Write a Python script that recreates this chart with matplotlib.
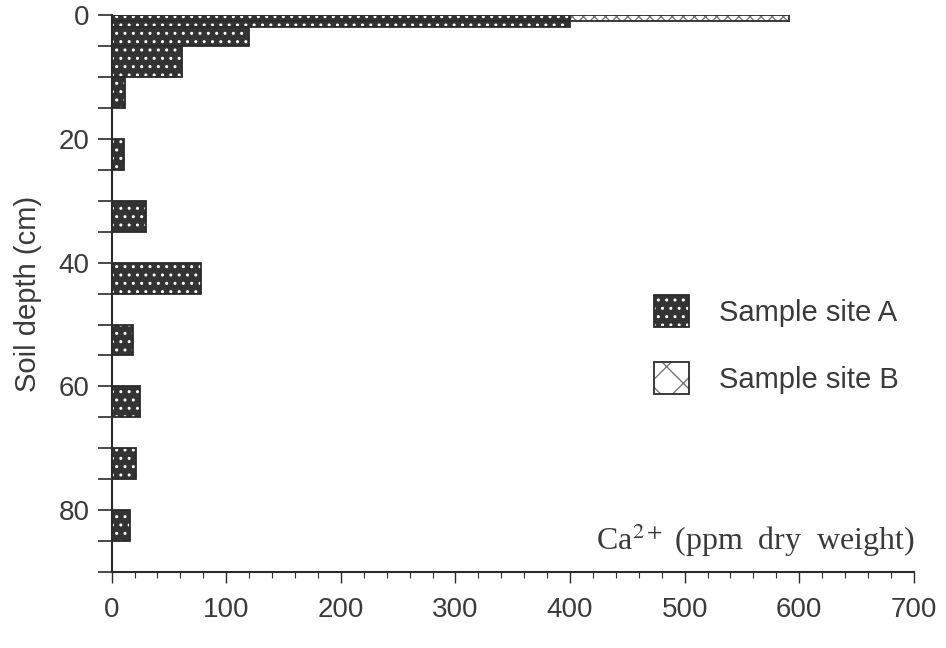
import matplotlib.pyplot as plt
from matplotlib.patches import Patch
from matplotlib.legend_handler import HandlerTuple
from matplotlib.ticker import MultipleLocator

# soil layers (cm) and Ca2+ content (ppm dry weight)
depth_top_a = [0, 2, 5, 10, 20, 30, 40, 50, 60, 70, 80]
depth_bot_a = [2, 5, 10, 15, 25, 35, 45, 55, 65, 75, 85]
ca_site_a = [400, 120, 61, 12, 11, 30, 78, 19, 25, 21, 16]

depth_top_b = [0]
depth_bot_b = [1]
ca_site_b = [591]

x_ticks = [0, 100, 200, 300, 400, 500, 600, 700]
y_ticks = [0, 20, 40, 60, 80]

ink = '#2b2b2b'
dark = '#333333'

fig = plt.figure(figsize=(9.46, 6.48), dpi=100)
ax = fig.add_axes([0.118, 0.117, 0.848, 0.86])


def layers(top, bot, vals, face, hatch, hatch_col):
    h = [b - t for t, b in zip(top, bot)]
    ax.barh(top, vals, height=h, align='edge', color=face, edgecolor=hatch_col,
            hatch=hatch, linewidth=0, zorder=2)
    ax.barh(top, vals, height=h, align='edge', fill=False, edgecolor=ink,
            linewidth=1.3, zorder=3)


plt.rcParams['hatch.linewidth'] = 1.0
layers(depth_top_b, depth_bot_b, ca_site_b, 'white', 'xxx', '#777777')
layers(depth_top_a, depth_bot_a, ca_site_a, dark, '..', 'white')

ax.set_xlim(0, 700)
ax.set_ylim(90, 0)
ax.set_xticks(x_ticks)
ax.set_yticks(y_ticks)
ax.xaxis.set_minor_locator(MultipleLocator(20))
ax.yaxis.set_minor_locator(MultipleLocator(5))

for s in ['top', 'right']:
    ax.spines[s].set_visible(False)
for s in ['left', 'bottom']:
    ax.spines[s].set_linewidth(1.5)
    ax.spines[s].set_color(ink)

ax.tick_params(axis='x', which='major', length=8, width=1.0, color=ink,
               labelsize=20, labelcolor='#3a3a3a', pad=10)
ax.tick_params(axis='x', which='minor', length=4, width=0.8, color=ink)
ax.tick_params(axis='y', which='both', length=10, width=1.2, color=ink,
               labelsize=20, labelcolor='#3a3a3a', pad=6)
for lab in ax.get_xticklabels() + ax.get_yticklabels():
    lab.set_family('Liberation Sans')

ax.set_ylabel('Soil depth (cm)', fontsize=21, family='Liberation Sans',
              color='#3a3a3a', labelpad=12)

fig.text(0.967, 0.166, r'Ca$^{2+}$ (ppm  dry  weight)', ha='right', va='center',
         fontsize=23, family='Liberation Serif', color='#3a3a3a',
         math_fontfamily='stix')

ha = (Patch(facecolor=dark, edgecolor='white', hatch='..', linewidth=0),
      Patch(fill=False, edgecolor=ink, linewidth=1.3))
hb = (Patch(facecolor='white', edgecolor='#777777', hatch='x', linewidth=0),
      Patch(fill=False, edgecolor=ink, linewidth=1.3))
leg = ax.legend([ha, hb], ['Sample site A', 'Sample site B'],
                handler_map={tuple: HandlerTuple(ndivide=1)},
                loc='center left', bbox_to_anchor=(0.664, 0.468),
                bbox_transform=fig.transFigure, frameon=False,
                fontsize=21, handlelength=1.2, handleheight=1.3,
                handletextpad=1.0, labelspacing=1.2)
for t in leg.get_texts():
    t.set_family('Liberation Sans')
    t.set_color('#3a3a3a')

fig.savefig('out.png', dpi=100)
